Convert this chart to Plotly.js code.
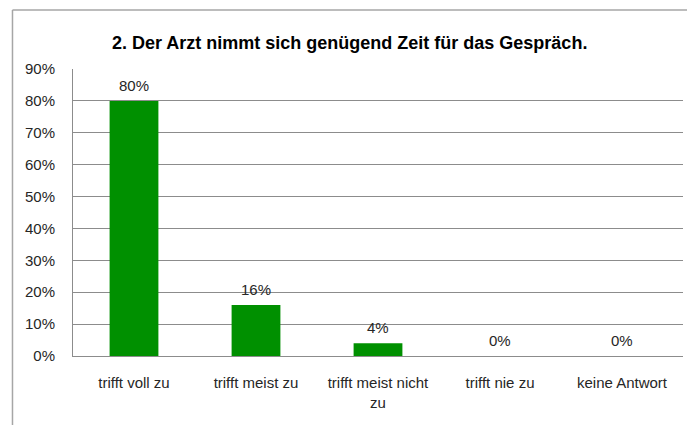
<!DOCTYPE html>
<html>
<head>
<meta charset="utf-8">
<script src="https://cdn.plot.ly/plotly-3.0.1.min.js"></script>
<style>html,body{margin:0;padding:0;background:#fff;}#chart{width:687px;height:425px;}</style>
</head>
<body>
<div id="chart"></div>
<script>
const categories = ["trifft voll zu", "trifft meist zu", "trifft meist nicht<br>zu", "trifft nie zu", "keine Antwort"];
const values = [0.80, 0.16, 0.04, 0.00, 0.00];
const labels = ["80%", "16%", "4%", "0%", "0%"];
const yTicks = [0, 0.1, 0.2, 0.3, 0.4, 0.5, 0.6, 0.7, 0.8, 0.9];
const yTickText = ["0%", "10%", "20%", "30%", "40%", "50%", "60%", "70%", "80%", "90%"];

const fam = "Liberation Sans, Arial, sans-serif";
const font = {family: fam, size: 15, color: "#262626"};

const annotations = categories.map((c, i) => ({
  x: c, y: values[i], xref: "x", yref: "y",
  text: labels[i], showarrow: false,
  yanchor: "bottom", yshift: 5,
  font: font
}));

Plotly.newPlot("chart", [{
  type: "bar",
  x: categories,
  y: values,
  marker: {color: "#009000"},
  hoverinfo: "none"
}], {
  width: 687, height: 425,
  margin: {l: 73, r: 4, t: 69, b: 69},
  paper_bgcolor: "#fff", plot_bgcolor: "#fff",
  bargap: 0.6,
  showlegend: false,
  font: font,
  annotations: annotations,
  title: {text: "<b>2. Der Arzt nimmt sich genügend Zeit für das Gespräch.</b>",
          font: {family: fam, size: 18, color: "#000"},
          x: 0.509, xanchor: "center", y: 0.9, yanchor: "middle"},
  xaxis: {showgrid: false, showline: true, linecolor: "#8c8c8c", linewidth: 1,
          ticks: "", tickfont: font, ticklabelstandoff: 13, fixedrange: true},
  yaxis: {range: [0, 0.9], tickvals: yTicks, ticktext: yTickText,
          showgrid: true, gridcolor: "#8c8c8c", gridwidth: 1,
          showline: true, linecolor: "#8c8c8c", zeroline: false,
          ticks: "", ticklabelstandoff: 14,
          tickfont: font, fixedrange: true},
  shapes: [
    {type: "line", xref: "paper", yref: "paper", x0: -0.0992, x1: -0.0992, y0: 1.2056, y1: -0.25,
     line: {color: "#a6a6a6", width: 1.5}},
    {type: "line", xref: "paper", yref: "paper", x0: -0.0992, x1: 1.01, y0: 1.2056, y1: 1.2056,
     line: {color: "#a6a6a6", width: 1.5}}
  ]
}, {staticPlot: true});
</script>
</body>
</html>
